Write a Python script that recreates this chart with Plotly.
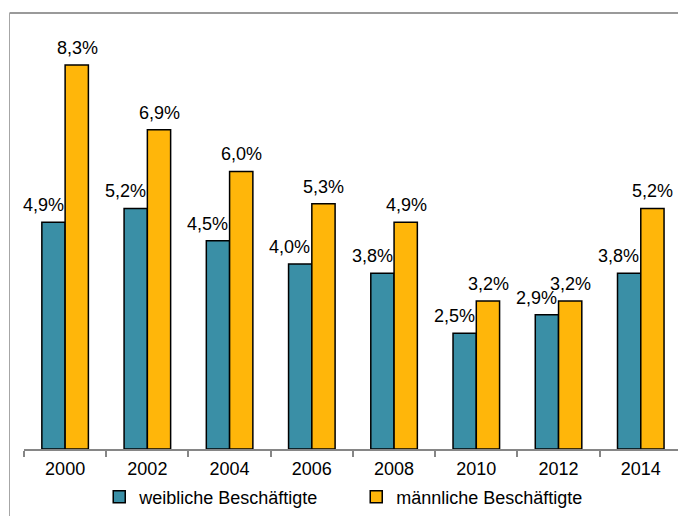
import plotly.graph_objects as go

years = ["2000", "2002", "2004", "2006", "2008", "2010", "2012", "2014"]
weiblich = [4.9, 5.2, 4.5, 4.0, 3.8, 2.5, 2.9, 3.8]
maennlich = [8.3, 6.9, 6.0, 5.3, 4.9, 3.2, 3.2, 5.2]
series_names = ["weibliche Beschäftigte", "männliche Beschäftigte"]
colors = ["#3A8FA6", "#FFB60A"]

W, H = 678, 516
left, top, bottom = 23.5, 20, 67
plot_w = W - left
plot_h = H - top - bottom

font = dict(family="Liberation Sans, Arial, sans-serif", size=18, color="#000000")


def fmt(v):
    return f"{v:.1f}%".replace(".", ",")


fig = go.Figure()
for name, vals, col in zip(series_names, [weiblich, maennlich], colors):
    fig.add_trace(go.Bar(
        x=years, y=vals, name=name,
        marker=dict(color=col, line=dict(color="#000000", width=1.5)),
    ))

# value labels above each bar (x given as category index)
ann = []
for i, yr in enumerate(years):
    ann.append(dict(x=i, y=weiblich[i], text=fmt(weiblich[i]), xref="x", yref="y",
                    showarrow=False, yanchor="bottom", yshift=5, xshift=-22,
                    font=font))
    ann.append(dict(x=i, y=maennlich[i], text=fmt(maennlich[i]), xref="x", yref="y",
                    showarrow=False, yanchor="bottom", yshift=5, xshift=12,
                    font=font))

# outer chart frame (top and left edges)
fx = (9 - left) / plot_w
fy = 1 + (top - 13) / plot_h
shapes = [
    dict(type="line", xref="paper", yref="paper", x0=fx, x1=1.05, y0=fy, y1=fy,
         line=dict(color="#9A9A9A", width=2)),
    dict(type="line", xref="paper", yref="paper", x0=fx, x1=fx, y0=fy, y1=-0.2,
         line=dict(color="#A6A6A6", width=1)),
]

fig.update_layout(
    width=W, height=H,
    margin=dict(l=left, r=0, t=top, b=bottom, pad=0),
    paper_bgcolor="#FFFFFF", plot_bgcolor="#FFFFFF",
    barmode="group", bargap=0.434, bargroupgap=0,
    font=font,
    showlegend=True,
    legend=dict(orientation="h", x=0.508, xanchor="center", y=-0.112, yanchor="middle",
                font=font, itemwidth=30, traceorder="normal", entrywidth=212,
                itemclick=False),
    annotations=ann,
    shapes=shapes,
)
fig.update_xaxes(
    type="category", range=[-0.5, -0.5 + plot_w / 82.3],
    showline=True, linecolor="#868686", linewidth=1.5,
    ticks="outside", tickson="boundaries", ticklen=6, tickcolor="#868686", tickwidth=1.5,
    ticklabelstandoff=3,
    showgrid=False, tickfont=font, fixedrange=True,
)
fig.update_yaxes(
    range=[0, plot_h / 46.27], visible=False, showgrid=False, zeroline=False, fixedrange=True,
)

fig.write_html("out.html", config={"displayModeBar": False})
